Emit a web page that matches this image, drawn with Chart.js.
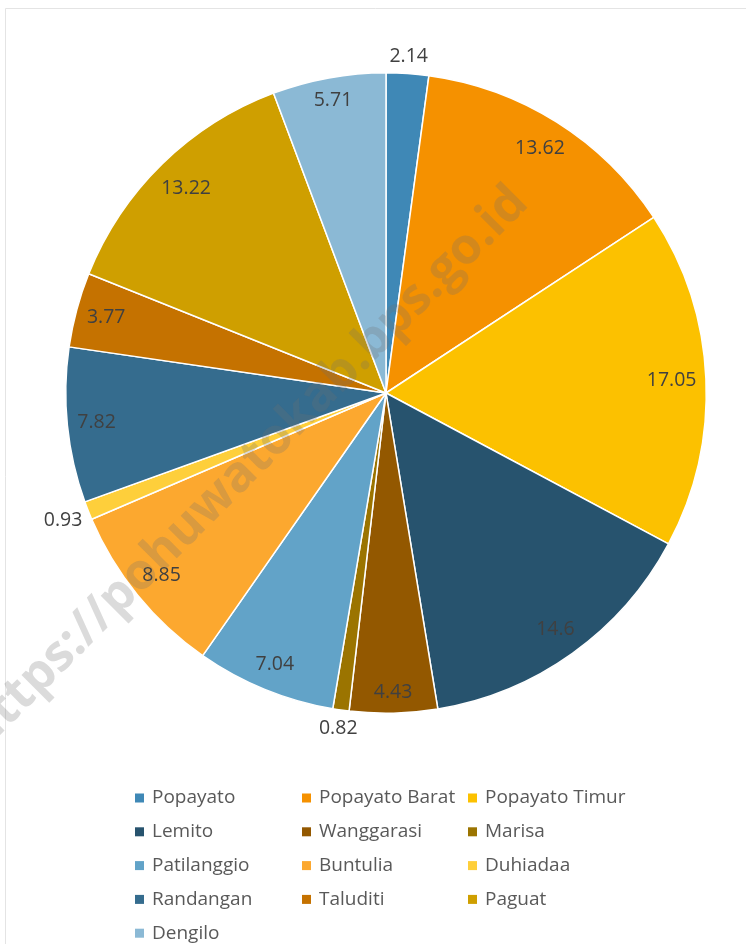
<!DOCTYPE html>
<html>
<head>
<meta charset="utf-8">
<script src="https://cdn.jsdelivr.net/npm/chart.js@4.4.0/dist/chart.umd.min.js"></script>
<style>
  html, body { margin: 0; padding: 0; background: #fff; }
  #wrap { position: relative; width: 746px; height: 944px; }
</style>
</head>
<body>
<div id="wrap"><canvas id="chart"></canvas></div>
<script>
// Kecamatan shares (%) in clockwise order from 12 o'clock
const districts = [
  "Popayato", "Popayato Barat", "Popayato Timur",
  "Lemito", "Wanggarasi", "Marisa",
  "Patilanggio", "Buntulia", "Duhiadaa",
  "Randangan", "Taluditi", "Paguat",
  "Dengilo"
];
const shares = [2.14, 13.62, 17.05, 14.6, 4.43, 0.82, 7.04, 8.85, 0.93, 7.82, 3.77, 13.22, 5.71];
const colors = [
  "#3f88b6", "#f59100", "#fcc100",
  "#27536e", "#935800", "#9b7400",
  "#62a3c8", "#fca82f", "#fecf3b",
  "#356c8e", "#c57200", "#cf9f00",
  "#8bb9d5"
];
const watermark = "https://pohuwatokab.bps.go.id";

const FONT = '"Open Sans", "Noto Sans", sans-serif';

// light frame around the figure (top + left edge visible)
const framePlugin = {
  id: "frame",
  beforeDraw(chart) {
    const ctx = chart.ctx;
    ctx.save();
    ctx.fillStyle = "#fff";
    ctx.fillRect(0, 0, chart.width, chart.height);
    ctx.strokeStyle = "#e4e4e4";
    ctx.lineWidth = 1;
    ctx.beginPath();
    ctx.moveTo(5.5, chart.height);
    ctx.lineTo(5.5, 8.5);
    ctx.lineTo(chart.width, 8.5);
    ctx.stroke();
    ctx.restore();
  },
};

const watermarkPlugin = {
  id: "watermark",
  afterDatasetsDraw(chart) {
    const ctx = chart.ctx;
    ctx.save();
    ctx.translate(530, 205);
    ctx.rotate(-Math.PI / 4);
    ctx.font = "bold 50px " + FONT;
    ctx.fillStyle = "rgba(110,110,110,0.25)";
    ctx.textAlign = "right";
    ctx.textBaseline = "alphabetic";
    ctx.fillText(watermark, 0, 0);
    ctx.restore();
  },
};

// value labels: inside end for big slices, just outside for small ones
const labelPlugin = {
  id: "sliceLabels",
  afterDraw(chart) {
    const ctx = chart.ctx;
    const arcs = chart.getDatasetMeta(0).data;
    ctx.save();
    ctx.font = "19.5px " + FONT;
    ctx.fillStyle = "#404040";
    ctx.textAlign = "center";
    ctx.textBaseline = "middle";
    arcs.forEach((arc, i) => {
      const { x, y, startAngle, endAngle, outerRadius } = arc.getProps(
        ["x", "y", "startAngle", "endAngle", "outerRadius"], true
      );
      const mid = (startAngle + endAngle) / 2;
      const ux = Math.cos(mid);
      const uy = Math.sin(mid);
      const txt = String(shares[i]);
      const w = ctx.measureText(txt).width;
      const h = 22;
      const half = Math.abs(ux) * w / 2 + Math.abs(uy) * h / 2;
      const d = shares[i] < 3 ? outerRadius + half + 5 : outerRadius - half - 9;
      ctx.fillText(txt, x + ux * d, y + uy * d);
    });
    ctx.restore();
  },
};

// three-column legend under the pie
const legendPlugin = {
  id: "gridLegend",
  afterDraw(chart) {
    const ctx = chart.ctx;
    const colX = [135, 302, 468];
    const rowY = 798;
    const rowH = 33.8;
    ctx.save();
    ctx.font = "19px " + FONT;
    ctx.textBaseline = "middle";
    chart.data.labels.forEach((lab, i) => {
      const cx = colX[i % 3];
      const cy = rowY + Math.floor(i / 3) * rowH;
      ctx.fillStyle = chart.data.datasets[0].backgroundColor[i];
      ctx.fillRect(cx, cy - 4.5, 9, 9);
      ctx.fillStyle = "#595959";
      ctx.fillText(lab, cx + 17, cy);
    });
    ctx.restore();
  },
};

new Chart(document.getElementById("chart"), {
  type: "pie",
  data: {
    labels: districts,
    datasets: [
      {
        data: shares,
        backgroundColor: colors,
        borderColor: "#ffffff",
        borderWidth: 1.5,
      },
    ],
  },
  options: {
    responsive: true,
    maintainAspectRatio: false,
    animation: false,
    layout: { padding: { left: 65, right: 39, top: 72, bottom: 230 } },
    plugins: {
      legend: { display: false },
      tooltip: { enabled: false },
    },
  },
  plugins: [framePlugin, watermarkPlugin, labelPlugin, legendPlugin],
});
</script>
</body>
</html>
